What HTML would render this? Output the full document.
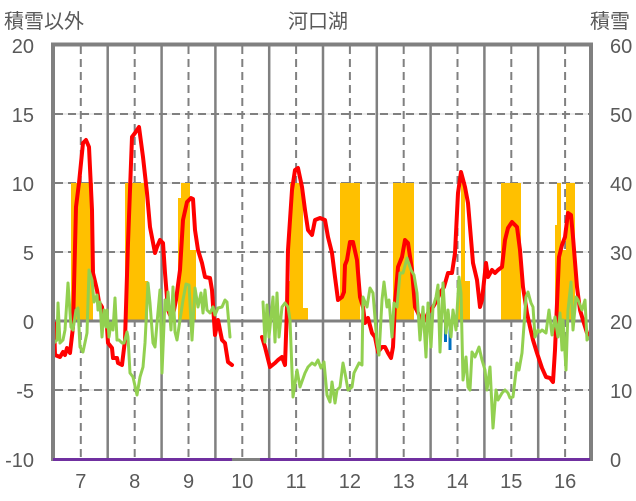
<!DOCTYPE html>
<html><head><meta charset="utf-8"><style>
html,body{margin:0;padding:0;background:#fff;}
svg{display:block;}
text{font-family:"Liberation Sans","Noto Sans CJK JP",sans-serif;fill:#595959;font-size:20px;}
</style></head><body>
<svg width="636" height="501" viewBox="0 0 636 501" xmlns="http://www.w3.org/2000/svg">
<rect x="0" y="0" width="636" height="501" fill="#fff"/>
<!-- light horizontal grid -->
<g stroke="#d9d9d9" stroke-width="1">
<line x1="55" y1="114" x2="589" y2="114"/><line x1="55" y1="183" x2="589" y2="183"/>
<line x1="55" y1="252" x2="589" y2="252"/><line x1="55" y1="390" x2="589" y2="390"/>
</g>
<g stroke="#808080" stroke-width="2" stroke-dasharray="8 5">
<line x1="55" y1="114" x2="589" y2="114"/><line x1="55" y1="183" x2="589" y2="183"/>
<line x1="55" y1="252" x2="589" y2="252"/><line x1="55" y1="390" x2="589" y2="390"/>
</g>
<!-- vertical dashed -->
<g stroke="#808080" stroke-width="2" stroke-dasharray="8 5">
<line x1="80.8" y1="46" x2="80.8" y2="458"/><line x1="134.7" y1="46" x2="134.7" y2="458"/>
<line x1="188.5" y1="46" x2="188.5" y2="458"/><line x1="242.3" y1="46" x2="242.3" y2="458"/>
<line x1="296.1" y1="46" x2="296.1" y2="458"/><line x1="349.9" y1="46" x2="349.9" y2="458"/>
<line x1="403.7" y1="46" x2="403.7" y2="458"/><line x1="457.5" y1="46" x2="457.5" y2="458"/>
<line x1="511.3" y1="46" x2="511.3" y2="458"/><line x1="565.1" y1="46" x2="565.1" y2="458"/>
</g>
<!-- vertical solid -->
<g stroke="#808080" stroke-width="2.5">
<line x1="107.7" y1="46" x2="107.7" y2="458"/><line x1="161.6" y1="46" x2="161.6" y2="458"/>
<line x1="215.4" y1="46" x2="215.4" y2="458"/><line x1="269.2" y1="46" x2="269.2" y2="458"/>
<line x1="323" y1="46" x2="323" y2="458"/><line x1="376.8" y1="46" x2="376.8" y2="458"/>
<line x1="430.6" y1="46" x2="430.6" y2="458"/><line x1="484.4" y1="46" x2="484.4" y2="458"/>
<line x1="538.2" y1="46" x2="538.2" y2="458"/>
</g>
<!-- orange bars -->
<g fill="#FFC000">
<rect x="71" y="183" width="22" height="138"/>
<rect x="125" y="183" width="20" height="138"/><rect x="145" y="281" width="3" height="40"/>
<rect x="178" y="198" width="3" height="123"/><rect x="181" y="183" width="9" height="138"/><rect x="190" y="250" width="6" height="71"/>
<rect x="286" y="281" width="4" height="40"/><rect x="290" y="183" width="13" height="138"/><rect x="303" y="308" width="5" height="13"/>
<rect x="340" y="183" width="20" height="138"/>
<rect x="393" y="183" width="21" height="138"/>
<rect x="457" y="293" width="4" height="28"/><rect x="461" y="183" width="4" height="138"/><rect x="465" y="281" width="5" height="40"/>
<rect x="501" y="183" width="20" height="138"/>
<rect x="555" y="225" width="2" height="96"/><rect x="557" y="183" width="4" height="138"/><rect x="561" y="250" width="5" height="71"/><rect x="566" y="183" width="9" height="138"/>
</g>
<!-- blue bars -->
<g fill="#0070C0">
<rect x="444" y="321" width="3" height="21"/><rect x="448.5" y="321" width="3" height="29"/><rect x="455" y="321" width="2" height="9"/>
</g>
<!-- zero line -->
<line x1="55" y1="321" x2="589" y2="321" stroke="#808080" stroke-width="3"/>
<!-- red series -->
<g fill="none" stroke="#FF0000" stroke-width="4" stroke-linejoin="round" stroke-linecap="round">
<polyline points="54,323 55,355 60,357 63,352 65,355 67,348 70,353 73,327 76,207 79,183 83,143 86,140 89,147 92,210 93,273 97,290 99,302 102,307 103,317 107,327 108,343 112,348 113,358 117,358 118,363 122,365 125,340 128,243 132,137 135,133 139,127 143,157 147,193 150,227 155,253 157,247 160,240 163,243 165,273 168,310 172,320 176,300 180,270 183,220 187,202 191,198 193,199 195,230 198,250 202,263 205,277 210,278 212,290 215,335 218,320 222,340 225,343 228,362 232,365"/>
<polyline points="262,337 265,347 270,367 275,363 278,360 282,357 285,365 287,307 288,250 292,190 295,170 298,168 302,187 305,210 308,230 312,235 315,220 320,218 325,220 328,237 332,253 335,277 338,300 342,297 344,292 345,265 347,260 350,242 353,242 357,260 360,297 363,307 365,323 368,318 372,333 375,337 378,352 382,347 385,347 388,353 391,358 393,347 395,303 398,267 402,257 405,240 408,243 412,270 415,307 418,313 422,323 425,320 428,313 433,307 437,300 440,293 444,287 448,273 452,273 455,253 458,193 461,172 465,187 468,203 470,227 473,263 477,280 480,307 482,300 486,263 488,277 492,270 495,273 498,270 502,267 505,240 508,228 512,222 517,227 520,250 523,287 527,313 530,327 533,340 537,353 540,362 542,368 546,377 550,378 553,382 555,350 559,257 562,245 565,237 568,213 571,215 573,237 577,287 580,310 583,320 587,333 590,337"/>
</g>
<!-- green series -->
<g fill="none" stroke="#92D050" stroke-width="3" stroke-linejoin="round" stroke-linecap="round">
<polyline points="54,343 57,340 58,303 60,343 63,340 65,330 68,283 71,327 73,330 76,310 78,308 80,347 83,352 87,333 89,270 92,280 94,302 97,295 98,310 100,302 102,337 104,310 106,327 107,310 109,337 111,323 113,330 115,298 117,340 119,340 122,343 124,343 127,332 128,337 130,373 133,377 137,395 140,377 143,367 145,343 148,283 150,303 153,343 155,347 157,323 160,290 162,373 165,300 167,310 168,292 171,330 173,287 175,332 177,340 180,320 183,300 186,284 189,285 192,340 195,288 198,307 201,293 203,313 205,290 207,310 210,313 213,307 215,315 218,308 222,307 225,300 227,302 230,337"/>
<polyline points="263,302 265,342 267,305 269,337 273,297 275,342 277,293 279,337 282,307 285,303 288,307 290,320 293,397 297,370 300,387 305,373 308,367 312,363 315,365 318,360 321,368 324,362 327,395 330,402 332,382 335,403 337,390 340,387 343,363 345,373 348,390 352,387 354,373 357,367 359,363 362,365 363,297 367,307 370,288 373,293 377,343 379,355 382,300 384,282 387,307 389,300 392,337 394,303 397,307 400,273 403,273 407,258 411,270 414,275 417,293 420,340 423,307 426,357 428,303 431,347 433,307 436,297 438,285 440,352 443,283 446,333 448,310 451,337 453,310 456,330 459,277 461,293 463,380 466,357 468,387 470,390 472,352 475,357 479,347 482,360 485,370 487,390 490,367 493,428 496,390 498,400 502,393 505,390 508,393 510,398 513,397 517,363 519,370 522,353 526,297 528,292 531,303 533,307 535,337 538,330 540,332 542,330 546,333 549,310 552,335 555,317 558,337 560,313 562,350 563,320 566,370 568,310 571,282 573,330 576,297 578,300 582,310 585,300 587,340 590,337"/>
</g>
<!-- frame -->
<g stroke="#808080" stroke-width="4" fill="none">
<line x1="53" y1="44.5" x2="591" y2="44.5"/>
<line x1="53" y1="42.5" x2="53" y2="461"/>
<line x1="591" y1="42.5" x2="591" y2="461"/>
</g>
<!-- bottom axis -->
<line x1="51" y1="459.5" x2="593" y2="459.5" stroke="#808080" stroke-width="3"/>
<line x1="53" y1="459.5" x2="232" y2="459.5" stroke="#7030A0" stroke-width="3"/>
<line x1="260" y1="459.5" x2="590" y2="459.5" stroke="#7030A0" stroke-width="3"/>
<!-- titles -->
<text x="4" y="28">積雪以外</text>
<text x="318" y="28" text-anchor="middle">河口湖</text>
<text x="590" y="28">積雪</text>
<!-- left axis labels -->
<g text-anchor="end">
<text x="34" y="53">20</text><text x="34" y="122">15</text><text x="34" y="191">10</text>
<text x="34" y="260">5</text><text x="34" y="329">0</text><text x="34" y="398">-5</text><text x="34" y="467">-10</text>
</g>
<!-- right axis labels -->
<g text-anchor="start">
<text x="610" y="53">60</text><text x="610" y="122">50</text><text x="610" y="191">40</text>
<text x="610" y="260">30</text><text x="610" y="329">20</text><text x="610" y="398">10</text><text x="610" y="467">0</text>
</g>
<!-- x labels -->
<g text-anchor="middle">
<text x="80.8" y="488">7</text><text x="134.7" y="488">8</text><text x="188.5" y="488">9</text>
<text x="242.3" y="488">10</text><text x="296.1" y="488">11</text><text x="349.9" y="488">12</text>
<text x="403.7" y="488">13</text><text x="457.5" y="488">14</text><text x="511.3" y="488">15</text>
<text x="565.1" y="488">16</text>
</g>
</svg>
</body></html>
